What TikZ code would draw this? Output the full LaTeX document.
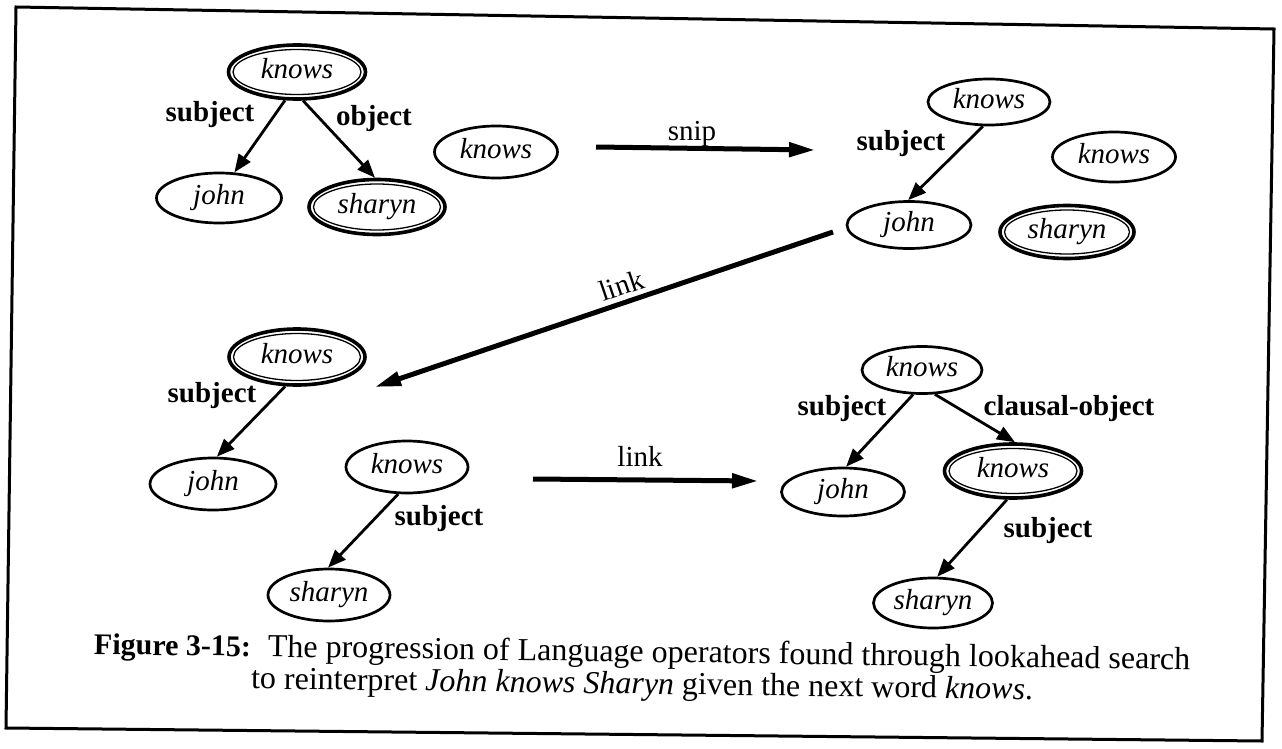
\documentclass[tikz,border=0pt]{standalone}
\usepackage{fontspec}
\setmainfont{Liberation Serif}
\usetikzlibrary{arrows.meta,shapes.geometric}
\begin{document}
\begin{tikzpicture}[x=1pt,y=-1pt,
  every node/.style={inner sep=0pt},
  word/.style={ellipse, draw, line width=2.7pt, font=\fontsize{29}{35}\selectfont\itshape,
    text height=20pt, text depth=7pt},
  dbl/.style={word, line width=3.6pt},
  inring/.style={ellipse, draw, line width=1.3pt},
  sz/.style 2 args={minimum width=#1pt, minimum height=#2pt},
  lbl/.style={font=\fontsize{29}{35}\selectfont\bfseries, anchor=base},
  oplbl/.style={font=\fontsize{29}{35}\selectfont, anchor=base},
  edge/.style={line width=2.8pt, -{Triangle[length=18pt,width=14pt]}},
  big/.style={line width=5pt, -{Triangle[length=26pt,width=14pt]}},
  captext/.style={font=\fontsize{32}{38}\selectfont, anchor=base, rotate=-0.8}
]
\useasboundingbox (0,0) rectangle (1282,749);

% frame
\coordinate (F1) at (16,7);
\coordinate (F2) at (1274,29);
\coordinate (F3) at (1262,741);
\coordinate (F4) at (6,728);
\draw[line width=3pt, line join=miter] (F1) -- (F2) -- (F3) -- (F4) -- cycle;

% group A
\node[dbl, sz={137}{54}] (A1) at (297,72) {knows};
\node[inring, sz={128}{45}] (A1i) at (A1.center) {};
\node[word, sz={125}{50}] (A2) at (219,198) {john};
\node[dbl, sz={136}{55}] (A3) at (377,207) {sharyn};
\node[inring, sz={127}{46}] (A3i) at (A3.center) {};
\node[word, sz={123}{52}] (A4) at (496,152) {knows};
\draw[edge] (A1.247) -- (A2.59);
\draw[edge] (A1.282) -- (A3.94);
\node[lbl] (LA1) at (210,122) {subject};
\node[lbl] (LA2) at (374,125) {object};

% snip
\coordinate (s1) at (596,147);
\coordinate (s2) at (815,150);
\draw[big] (s1) -- (s2);
\node[oplbl] (Lsnip) at (692,140) {snip};

% group B
\node[word, sz={122}{46}] (B1) at (989,102) {knows};
\node[word, sz={124}{47}] (B2) at (909,225) {john};
\node[word, sz={123}{50}] (B3) at (1114,157) {knows};
\node[dbl, sz={134}{53}] (B4) at (1067,232) {sharyn};
\node[inring, sz={125}{44}] (B4i) at (B4.center) {};
\draw[edge] (B1.256) -- (B2.92);
\node[lbl] (LB1) at (901,150) {subject};

% link 1
\coordinate (l1) at (833,232);
\coordinate (l2) at (375,387);
\draw[big] (l1) -- node[font=\fontsize{29}{35}\selectfont, pos=0.45, rotate=18.7, anchor=south, inner sep=5pt] (Llink1) {link} (l2);

% group C
\node[dbl, sz={136}{56}] (C1) at (297,357) {knows};
\node[inring, sz={127}{47}] (C1i) at (C1.center) {};
\node[word, sz={126}{52}] (C2) at (213,484) {john};
\node[word, sz={122}{52}] (C3) at (407,467) {knows};
\node[word, sz={122}{52}] (C4) at (329,595) {sharyn};
\draw[edge] (C1.248) -- (C2.82);
\draw[edge] (C3.252) -- (C4.92);
\node[lbl] (LC1) at (212,402) {subject};
\node[lbl] (LC2) at (439,525) {subject};

% link 2
\coordinate (m1) at (533,479);
\coordinate (m2) at (758,481);
\draw[big] (m1) -- (m2);
\node[oplbl] (Llink2) at (640,466) {link};

% group D
\node[word, sz={120}{47}] (D1) at (922,370) {knows};
\node[word, sz={123}{48}] (D2) at (843,492) {john};
\node[dbl, sz={137}{54}] (D3) at (1013,471) {knows};
\node[inring, sz={128}{45}] (D3i) at (D3.center) {};
\node[word, sz={119}{50}] (D4) at (933,603) {sharyn};
\draw[edge] (D1.250) -- (D2.83);
\draw[edge] (D1.298) -- (D3.86);
\draw[edge] (D3.258) -- (D4.81);
\node[lbl] (LD1) at (842,415) {subject};
\node[lbl] (LD2) at (1069,415) {clausal-object};
\node[lbl] (LD3) at (1048,537) {subject};

% caption
\node[captext] (cap1) at (642,662) {{\fontsize{30}{36}\selectfont\bfseries Figure 3-15:}\hspace{17pt}The progression of Language operators found through lookahead search};
\node[captext] (cap2) at (642,694) {to reinterpret \textit{John knows Sharyn} given the next word \textit{knows}.};
\end{tikzpicture}
\end{document}
